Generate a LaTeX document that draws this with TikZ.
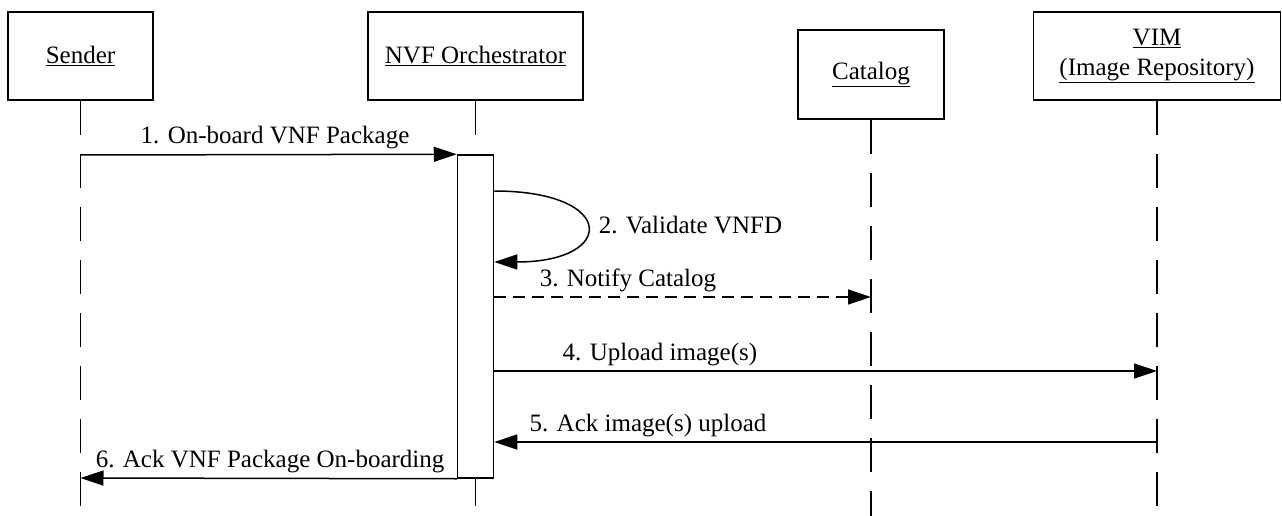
\documentclass[tikz,border=0pt]{standalone}
\usepackage{fontspec}
\setmainfont{Liberation Serif}
\usetikzlibrary{arrows.meta}
\tikzset{
  actor/.style={draw, fill=white, inner sep=2pt, align=center},
  life/.style={dash pattern=on 34pt off 19pt},
  msg/.style={-{Triangle[length=23pt,width=15pt]}},
  lbl/.style={above=11pt, inner sep=0pt, text depth=0pt, anchor=base},
}
\begin{document}
\begin{tikzpicture}[x=1pt,y=-1pt,line width=1.5pt,font=\fontsize{25}{30}\selectfont]
\useasboundingbox (0,0) rectangle (1282,516);
% actors
\node (sender) at (80.5,56) [actor, minimum width=145, minimum height=88] {\underline{Sender}};
\node (nfvo) at (475.5,56) [actor, minimum width=215, minimum height=88] {\underline{NVF Orchestrator}};
\node (catalog) at (871,74.5) [actor, minimum width=146, minimum height=89] {\underline{Catalog}};
\node (vim) at (1157,56) [actor, minimum width=247, minimum height=88] {\underline{VIM}\\\underline{(Image Repository)}};

% lifeline ends
\coordinate (senderEnd) at (80.5,506);
\coordinate (nfvoEnd) at (475.5,506);
\coordinate (catalogEnd) at (871,516);
\coordinate (vimEnd) at (1157,506);

\draw[life] (sender.south) -- (senderEnd);
\draw[life] (nfvo.south) -- (nfvoEnd);
\draw[life] (catalog.south) -- (catalogEnd);
\draw[life] (vim.south) -- (vimEnd);

% activation
\node (act) at (475.5,316.5) [draw, fill=white, minimum width=36, minimum height=323, inner sep=0pt] {};

% message points
\coordinate (m1a) at (80.5,155);
\coordinate (m2a) at (act.east |- 0,191);
\coordinate (m2b) at (act.east |- 0,262);
\coordinate (m3a) at (act.east |- 0,297);
\coordinate (m3b) at (871,297);
\coordinate (m4a) at (act.east |- 0,371);
\coordinate (m4b) at (1157,371);
\coordinate (m5a) at (1157,442);
\coordinate (m5b) at (act.east |- 0,442);
\coordinate (m6b) at (80.5,478);

\draw[msg] (m1a) -- node[lbl, pos=0.517] (l1) {1. On-board VNF Package} (act.north west);
\draw[msg] (m2a) .. controls (617,191) and (617,262) .. (m2b);
\node (l2) at (598,233) [anchor=base west, inner sep=0pt] {2. Validate VNFD};
\draw[msg, dash pattern=on 12pt off 7pt] (m3a) -- node[lbl, pos=0.355] (l3) {3. Notify Catalog} (m3b);
\draw[msg] (m4a) -- node[lbl, pos=0.25] (l4) {4. Upload image(s)} (m4b);
\draw[msg] (m5a) -- node[lbl, pos=0.768] (l5) {5. Ack image(s) upload} (m5b);
\draw[msg] (act.south west) -- node[lbl, pos=0.496] (l6) {6. Ack VNF Package On-boarding} (m6b);
\end{tikzpicture}
\end{document}
